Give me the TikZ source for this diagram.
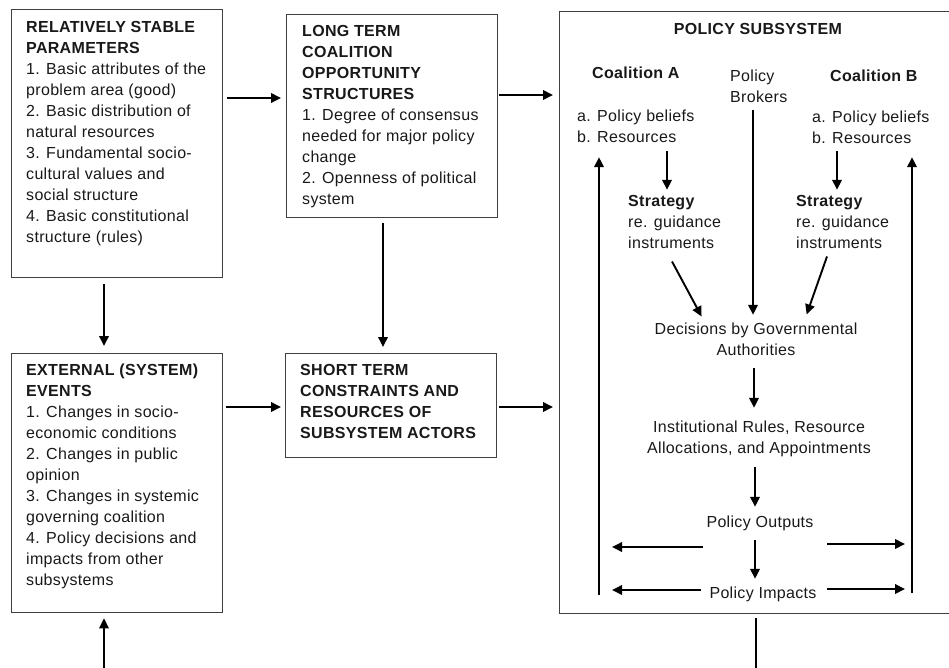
\documentclass[tikz,border=0pt]{standalone}
\usepackage{fontspec}
\setmainfont{Liberation Sans}[LetterSpace=2]
\usetikzlibrary{arrows.meta}
\newcommand{\tleft}[1]{\begin{tabular}[t]{@{}l@{}}#1\end{tabular}}
\newcommand{\tcent}[1]{\begin{tabular}[t]{@{}c@{}}#1\end{tabular}}
\begin{document}
\begin{tikzpicture}[x=1pt,y=-1pt,
  every node/.style={inner sep=0pt, text=black!90, font=\fontsize{16}{21}\selectfont},
  box/.style={draw=black!75, line width=1.3pt, anchor=north west},
  arr/.style={line width=1.9pt, -{Triangle[length=10pt,width=9.5pt]}},
  ln/.style={line width=1.9pt}]
\useasboundingbox (0,0) rectangle (949,668);
\clip (0,0) rectangle (949,668);
% boxes
\node[box, minimum width=211pt, minimum height=268pt] (b1) at (11,9) {};
\node[box, minimum width=211pt, minimum height=203pt] (b2) at (286,14) {};
\node[box, minimum width=211pt, minimum height=259pt] (b4) at (11,353) {};
\node[box, minimum width=211pt, minimum height=104pt] (b5) at (285,353) {};
\node[box, minimum width=401pt, minimum height=602pt] (ps) at (559,11) {};
% box texts
\node[anchor=base west] (t1) at (26,33) {\tleft{\textbf{RELATIVELY STABLE}\\ \textbf{PARAMETERS}\\
1. Basic attributes of the\\ problem area (good)\\ 2. Basic distribution of\\ natural resources\\
3. Fundamental socio-\\ cultural values and\\ social structure\\ 4. Basic constitutional\\ structure (rules)}};
\node[anchor=base west] (t2) at (302,37) {\tleft{\textbf{LONG TERM}\\ \textbf{COALITION}\\ \textbf{OPPORTUNITY}\\ \textbf{STRUCTURES}\\
1. Degree of consensus\\ needed for major policy\\ change\\ 2. Openness of political\\ system}};
\node[anchor=base west] (t4) at (26,375) {\tleft{\textbf{EXTERNAL (SYSTEM)}\\ \textbf{EVENTS}\\
1. Changes in socio-\\ economic conditions\\ 2. Changes in public\\ opinion\\ 3. Changes in systemic\\ governing coalition\\
4. Policy decisions and\\ impacts from other\\ subsystems}};
\node[anchor=base west] (t5) at (300,375) {\tleft{\textbf{SHORT TERM}\\ \textbf{CONSTRAINTS AND}\\ \textbf{RESOURCES OF}\\ \textbf{SUBSYSTEM ACTORS}}};
% outer connectors
\draw[arr, shorten <=4pt, shorten >=5pt] (b1.east |- 0,98) -- (b2.west |- 0,98);
\draw[arr, shorten <=1pt, shorten >=6pt] (b2.east |- 0,95) -- (ps.west |- 0,95);
\draw[arr, shorten <=3pt, shorten >=4pt] (b4.east |- 0,407) -- (b5.west |- 0,407);
\draw[arr, shorten <=2pt, shorten >=6pt] (b5.east |- 0,407) -- (ps.west |- 0,407);
\draw[arr, shorten <=6pt, shorten >=7pt] (b1.south -| 104,0) -- (b4.north -| 104,0);
\draw[arr, shorten <=5pt, shorten >=6pt] (b2.south -| 383,0) -- (b5.north -| 383,0);
\coordinate (bl) at (104,672);
\draw[arr, shorten >=5pt] (bl) -- (b4.south -| bl);
\coordinate (br) at (756,672);
\draw[ln, shorten <=4pt] (ps.south -| br) -- (br);
% policy subsystem contents
\node[anchor=base] (pst) at (758,35) {\textbf{POLICY SUBSYSTEM}};
\node[anchor=base] (ca) at (636,79) {\textbf{Coalition A}};
\node[anchor=base west] (pb) at (730,82) {\tleft{Policy\\ Brokers}};
\node[anchor=base] (cb) at (874,82) {\textbf{Coalition B}};
\node[anchor=base west] (la) at (577,122) {\tleft{a. Policy beliefs\\ b. Resources}};
\node[anchor=base west] (lb) at (812,123) {\tleft{a. Policy beliefs\\ b. Resources}};
\node[anchor=base west] (sa) at (628,207) {\tleft{\textbf{Strategy}\\ re. guidance\\ instruments}};
\node[anchor=base west] (sb) at (796,207) {\tleft{\textbf{Strategy}\\ re. guidance\\ instruments}};
\node[anchor=base] (dec) at (756,334) {\tcent{Decisions by Governmental\\ Authorities}};
\node[anchor=base] (inst) at (759,432) {\tcent{Institutional Rules, Resource\\ Allocations, and Appointments}};
\node[anchor=base] (out) at (760,527) {\tcent{Policy Outputs}};
\node[anchor=base] (imp) at (763,598) {\tcent{Policy Impacts}};
% inner connectors
\draw[arr, shorten <=1.7pt, shorten >=2.3pt] (la.south -| 667,0) -- (sa.north -| 667,0);
\draw[arr, shorten <=0.7pt, shorten >=2.3pt] (lb.south -| 837,0) -- (sb.north -| 837,0);
\coordinate (lup) at (599,595);
\draw[arr, shorten >=7.7pt] (lup) -- (la.south -| lup);
\coordinate (rup) at (912,593);
\draw[arr, shorten >=6.7pt] (rup) -- (lb.south -| rup);
\draw[arr, shorten <=1pt, shorten >=4.3pt] (pb.south -| 753,0) -- (dec.north -| 753,0);
\draw[arr, shorten >=3pt] ([shift={(44,6)}]sa.south west) -- (dec.north -| 703,0);
\draw[arr, shorten >=5pt] ([shift={(31,1)}]sb.south west) -- (dec.north -| 805,0);
\draw[arr, shorten <=6.7pt, shorten >=9.3pt] (dec.south -| 754,0) -- (inst.north -| 754,0);
\draw[arr, shorten <=7.7pt, shorten >=5.3pt] (inst.south -| 755,0) -- (out.north -| 755,0);
\draw[arr, shorten <=6.7pt, shorten >=4.3pt] (out.south -| 755,0) -- (imp.north -| 755,0);
\coordinate (oL) at (612,547);
\coordinate (oR) at (905,544);
\coordinate (iL) at (612,590);
\coordinate (iR) at (905,589);
\draw[arr, shorten <=3.5pt] (out.west |- oL) -- (oL);
\draw[arr, shorten <=13.5pt] (out.east |- oR) -- (oR);
\draw[arr, shorten <=8.5pt] (imp.west |- iL) -- (iL);
\draw[arr, shorten <=10.5pt] (imp.east |- iR) -- (iR);
\end{tikzpicture}
\end{document}
